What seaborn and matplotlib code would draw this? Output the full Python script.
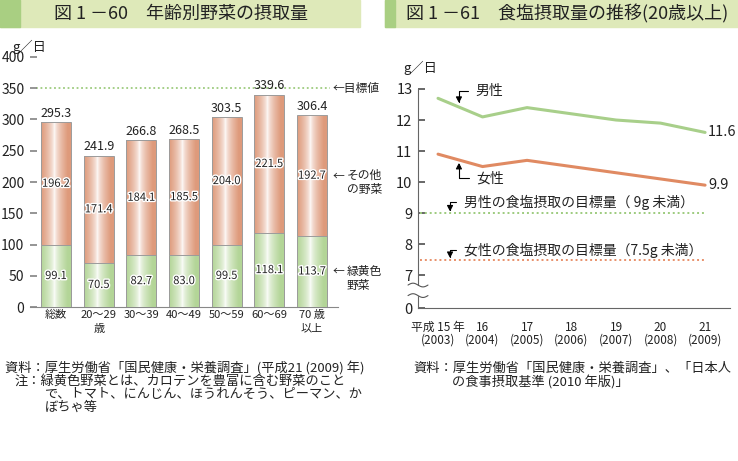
import numpy as np
import matplotlib
matplotlib.use("Agg")
import matplotlib.pyplot as plt
import matplotlib.transforms as mtrans
import matplotlib.patheffects as pe
from matplotlib.patches import Rectangle
from matplotlib.colors import to_rgb
import seaborn as sns

# data: left chart (vegetable intake by age, g/day)
age_groups = ["総数", "20～29\n歳", "30～39", "40～49", "50～59", "60～69", "70 歳\n以上"]
green_veg = [99.1, 70.5, 82.7, 83.0, 99.5, 118.1, 113.7]
other_veg = [196.2, 171.4, 184.1, 185.5, 204.0, 221.5, 192.7]
total_veg = [295.3, 241.9, 266.8, 268.5, 303.5, 339.6, 306.4]
veg_goal = 350

# data: right chart (salt intake, g/day)
years = [2003, 2004, 2005, 2006, 2007, 2008, 2009]
year_labels = ["平成 15 年\n(2003)", "16\n(2004)", "17\n(2005)", "18\n(2006)",
               "19\n(2007)", "20\n(2008)", "21\n(2009)"]
male_salt = [12.7, 12.1, 12.4, 12.2, 12.0, 11.9, 11.6]
female_salt = [10.9, 10.5, 10.7, 10.5, 10.3, 10.1, 9.9]
male_goal = 9.0
female_goal = 7.5

sns.set_theme(style="white")
plt.rcParams["font.family"] = ["Noto Sans CJK JP", "DejaVu Sans"]

W, H = 738, 461
fig = plt.figure(figsize=(7.38, 4.61), dpi=100)
fig.patch.set_facecolor("white")


def fx(x):
    return x / W


def fy(y):
    return 1 - y / H


ORANGE = "#DE9A7B"
GREEN = "#B3D597"
LINE_GREEN = "#A8CF8A"
LINE_ORANGE = "#E08A62"
TXT = "#222222"

# title banners
for x0, x1, dark_w in [(0, 360, 20), (385, 738, 10)]:
    fig.patches.append(Rectangle((fx(x0), fy(27)), fx(x1 - x0), 27 / H,
                                 transform=fig.transFigure, color="#DEE9B9", zorder=0))
    fig.patches.append(Rectangle((fx(x0), fy(27)), fx(dark_w), 27 / H,
                                 transform=fig.transFigure, color="#A9CF82", zorder=0))
fig.text(fx(181), fy(14), "図 1 －60　年齢別野菜の摂取量", ha="center", va="center",
         fontsize=13, color=TXT)
fig.text(fx(567), fy(14), "図 1 －61　食塩摂取量の推移(20歳以上)", ha="center", va="center",
         fontsize=13, color=TXT)


def fill_gradient(ax, patch, edge, z):
    x0, y0 = patch.get_x(), patch.get_y()
    w, h = patch.get_width(), patch.get_height()
    u = np.linspace(-1, 1, 120)
    t = np.clip(np.abs(u + 0.1) / 0.9, 0, 1) ** 0.6
    rgb = 1 - np.outer(t, 1 - np.array(to_rgb(edge)))
    im = ax.imshow(rgb[np.newaxis, :, :], extent=[x0, x0 + w, y0, y0 + h],
                   aspect="auto", origin="lower", zorder=z, interpolation="bilinear")
    im.set_clip_path(patch)
    patch.set_facecolor("none")
    patch.set_edgecolor("#9b9b9b")
    patch.set_linewidth(0.7)
    patch.set_zorder(z + 0.5)


# ---------- left chart ----------
ax1 = fig.add_axes([fx(30), fy(307), fx(308), 250 / H])
sns.barplot(x=age_groups, y=total_veg, ax=ax1, color=ORANGE, width=0.7,
            saturation=1, errorbar=None)
sns.barplot(x=age_groups, y=green_veg, ax=ax1, color=GREEN, width=0.7,
            saturation=1, errorbar=None)
n = len(age_groups)
for p in ax1.patches[:n]:
    fill_gradient(ax1, p, ORANGE, 1)
for p in ax1.patches[n:2 * n]:
    fill_gradient(ax1, p, GREEN, 3)

halo = [pe.withStroke(linewidth=2, foreground="white")]
for i in range(n):
    ax1.text(i, total_veg[i] + 4, f"{total_veg[i]:.1f}", ha="center", va="bottom",
             fontsize=9, color=TXT, zorder=6)
    ax1.text(i, green_veg[i] + other_veg[i] / 2, f"{other_veg[i]:.1f}", ha="center",
             va="center", fontsize=8, color=TXT, zorder=6, path_effects=halo)
    ax1.text(i, green_veg[i] / 2, f"{green_veg[i]:.1f}", ha="center", va="center",
             fontsize=8, color=TXT, zorder=6, path_effects=halo)

ax1.axhline(veg_goal, xmin=0.02, xmax=0.975, color="#9DCB7E", ls=(0, (1, 1.5)), lw=1.3, zorder=0.5)
ax1.set_xlim(-0.61, 6.61)
ax1.set_ylim(0, 400)
ax1.set_yticks(range(0, 401, 50))
ax1.tick_params(axis="y", direction="in", length=5, left=True, color="#888888",
                labelsize=10, labelcolor=TXT, pad=4)
ax1.tick_params(axis="x", length=0, labelsize=8, labelcolor=TXT, pad=2)
for lab in ax1.get_xticklabels():
    lab.set_linespacing(1.5)
    lab.set_va("top")
for s in ["top", "right", "left"]:
    ax1.spines[s].set_visible(False)
ax1.spines["bottom"].set_color("#888888")
ax1.spines["bottom"].set_linewidth(0.8)

bl = mtrans.blended_transform_factory(ax1.transAxes, ax1.transData)
ax1.text(0.984, veg_goal, "←目標値", transform=bl, ha="left", va="center",
         fontsize=8.5, color=TXT, clip_on=False)
y_other = green_veg[-1] + other_veg[-1] / 2
y_green = green_veg[-1] / 2
for yv, l1, l2 in [(y_other, "その他", "の野菜"), (y_green, "緑黄色", "野菜")]:
    ax1.text(0.984, yv, "←", transform=bl, ha="left", va="center", fontsize=8.5,
             color=TXT, clip_on=False)
    ax1.text(1.029, yv, l1, transform=bl, ha="left", va="center", fontsize=8.5,
             color=TXT, clip_on=False)
    ax1.text(1.029, yv - 22, l2, transform=bl, ha="left", va="center", fontsize=8.5,
             color=TXT, clip_on=False)
fig.text(fx(12), fy(47), "g／日", ha="left", va="center", fontsize=9.5, color=TXT)

# ---------- right chart ----------
ax2 = fig.add_axes([fx(418), fy(308), fx(312), 219 / H])
sns.lineplot(x=years, y=male_salt, ax=ax2, color=LINE_GREEN, lw=2.2)
sns.lineplot(x=years, y=female_salt, ax=ax2, color=LINE_ORANGE, lw=2.2)
ax2.axhline(male_goal, xmin=0.006, xmax=0.917, color="#9DCB7E", ls=(0, (1, 1.5)), lw=1.4)
ax2.axhline(female_goal, xmin=0.006, xmax=0.917, color="#E8906A", ls=(0, (1, 1.5)), lw=1.4)
ax2.set_xlim(2002.55, 2009.56)
ax2.set_ylim(5.94, 13)
ax2.set_yticks([5.94, 7, 8, 9, 10, 11, 12, 13])
ax2.set_yticklabels(["0", "7", "8", "9", "10", "11", "12", "13"])
ax2.set_xticks(years)
ax2.set_xticklabels(year_labels)
ax2.tick_params(axis="y", direction="in", length=5, left=True, color="#555555",
                labelsize=10.5, labelcolor=TXT, pad=4)
ax2.tick_params(axis="x", length=0, labelsize=8.5, labelcolor=TXT, pad=9)
for lab in ax2.get_xticklabels():
    lab.set_linespacing(1.0)
for s in ["top", "right"]:
    ax2.spines[s].set_visible(False)
for s in ["left", "bottom"]:
    ax2.spines[s].set_color("#666666")
    ax2.spines[s].set_linewidth(0.8)

# axis break on the y axis
bl2 = mtrans.blended_transform_factory(ax2.transAxes, ax2.transData)
ax2.add_patch(Rectangle((-0.02, 6.36), 0.04, 0.3, transform=bl2, color="white",
                        zorder=5, clip_on=False))
wx = np.linspace(-0.032, 0.032, 40)
for yc in [6.34, 6.68]:
    ax2.plot(wx, yc + 0.06 * np.sin(np.linspace(0, 2 * np.pi, 40)), transform=bl2,
             color="#555555", lw=0.8, clip_on=False, zorder=6)

arrow = dict(arrowstyle="-|>,head_length=0.35,head_width=0.18", color="black", lw=0.8,
             connectionstyle="angle,angleA=0,angleB=90,rad=0", shrinkA=3, shrinkB=0)
ax2.annotate("男性", xy=(2003.47, 12.55), xytext=(2003.83, 12.94), ha="left", va="center",
             fontsize=10, color=TXT, arrowprops=arrow, annotation_clip=False)
ax2.annotate("女性", xy=(2003.47, 10.62), xytext=(2003.87, 10.13), ha="left", va="center",
             fontsize=10, color=TXT, arrowprops=arrow)
ax2.annotate("男性の食塩摂取の目標量（ 9g 未満）", xy=(2003.27, 9.05), xytext=(2003.58, 9.35),
             ha="left", va="center", fontsize=10, color=TXT, arrowprops=arrow)
ax2.annotate("女性の食塩摂取の目標量（7.5g 未満）", xy=(2003.27, 7.55), xytext=(2003.58, 7.81),
             ha="left", va="center", fontsize=10, color=TXT, arrowprops=arrow)
ax2.text(years[-1] + 0.07, male_salt[-1], f"{male_salt[-1]:.1f}", ha="left", va="center",
         fontsize=10.5, color=TXT, clip_on=False)
ax2.text(years[-1] + 0.07, female_salt[-1], f"{female_salt[-1]:.1f}", ha="left", va="center",
         fontsize=10.5, color=TXT, clip_on=False)
fig.text(fx(403), fy(68), "g／日", ha="left", va="center", fontsize=9.5, color=TXT)

# ---------- notes ----------
notes = [
    (5, 368, "資料：厚生労働省「国民健康・栄養調査」(平成21 (2009) 年)"),
    (15, 381, "注：緑黄色野菜とは、カロテンを豊富に含む野菜のこと"),
    (45, 394, "で、トマト、にんじん、ほうれんそう、ピーマン、か"),
    (45, 407, "ぼちゃ等"),
    (413, 368, "資料：厚生労働省「国民健康・栄養調査」、「日本人"),
    (452, 382, "の食事摂取基準 (2010 年版)」"),
]
for x, y, s in notes:
    fig.text(fx(x), fy(y), s, ha="left", va="center", fontsize=9.5, color=TXT)

fig.savefig("out.png", dpi=100, facecolor="white")
